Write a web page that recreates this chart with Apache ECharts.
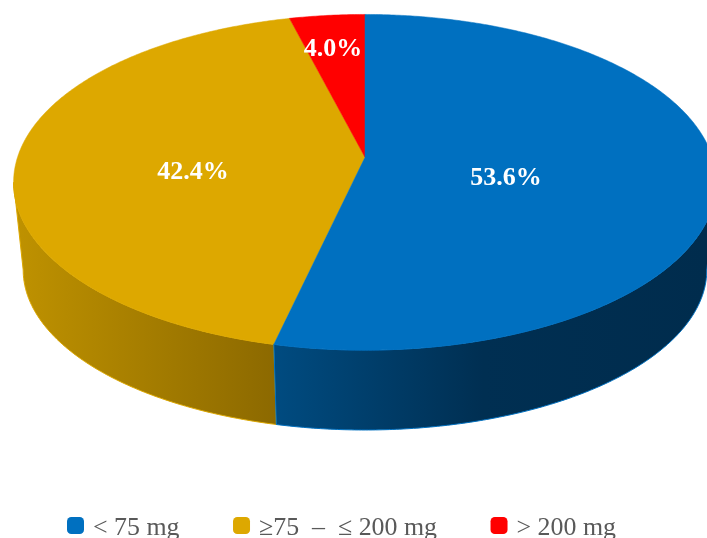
<!DOCTYPE html>
<html>
<head>
<meta charset="utf-8">
<style>html,body{margin:0;padding:0;background:#fff}#c{width:707px;height:538px}</style>
<script src="https://cdn.jsdelivr.net/npm/echarts@6/dist/echarts.min.js"></script>
</head>
<body>
<div id="c"></div>
<script>
const categories = ['< 75 mg', '\u226575  \u2013  \u2264 200 mg', '> 200 mg'];
const shares = [53.6, 42.4, 4.0];
const topColors = ['#0070C0', '#DDA800', '#FF0000'];
const sideStops = [
  [[0, '#004B80'], [0.48, '#002F52'], [1, '#002C4D']],
  [[0, '#BF9200'], [1, '#8C6900']],
  [[0, '#990000'], [1, '#990000']]
];
const sideRanges = [[276, 707], [14, 276], [290, 365]];
const labelAnchors = [[506, 178], [193, 172], [333, 49]];

// perspective projection of the disc (layout only)
const CX = 365, PERSP = -0.1488;
const TOP = { r: 347.5, a: 140.7, b: 157.3 };
const BOTTOM = { r: 338, a: 120, b: 246 };
const SIDE_START = 98.6, SIDE_END = 261.4; // visible part of the rim, degrees clockwise from 12 o'clock

function project(face, deg) {
  const t = deg * Math.PI / 180;
  const u = Math.sin(t), v = -Math.cos(t);
  const d = 1 + PERSP * v;
  return [CX + face.r * u / d, (face.a * v + face.b) / d];
}
function arc(face, from, to) {
  const pts = [];
  const n = Math.max(2, Math.ceil(Math.abs(to - from) * 2));
  for (let i = 0; i <= n; i++) pts.push(project(face, from + (to - from) * i / n));
  return pts;
}
const total = shares.reduce((s, v) => s + v, 0);

function sliceSeries(idx) {
  const before = shares.slice(0, idx).reduce((s, v) => s + v, 0);
  return {
    type: 'custom',
    name: categories[idx],
    coordinateSystem: 'none',
    silent: true,
    itemStyle: { color: topColors[idx] },
    data: [shares[idx]],
    renderItem(params, api) {
      const value = api.value(0);
      const a0 = before / total * 360, a1 = (before + value) / total * 360;
      const children = [];
      const s0 = Math.max(a0, SIDE_START), s1 = Math.min(a1, SIDE_END);
      if (s1 > s0) {
        const range = sideRanges[idx];
        const grad = new echarts.graphic.LinearGradient(range[0], 0, range[1], 0,
          sideStops[idx].map(s => ({ offset: s[0], color: s[1] })), true);
        children.push({
          type: 'polygon',
          shape: { points: arc(TOP, s0, s1).concat(arc(BOTTOM, s1, s0)) },
          style: { fill: grad, stroke: topColors[idx], lineWidth: 1 }
        });
      }
      children.push({
        type: 'polygon',
        shape: { points: [[CX, TOP.b]].concat(arc(TOP, a0, a1)) },
        style: { fill: topColors[idx], stroke: topColors[idx], lineWidth: 0.5 }
      });
      children.push({
        type: 'text',
        z2: 10,
        style: {
          x: labelAnchors[idx][0], y: labelAnchors[idx][1],
          text: value.toFixed(1) + '%',
          fill: '#FFFFFF',
          font: 'bold 26px "Liberation Serif"',
          align: 'center', verticalAlign: 'middle'
        }
      });
      return { type: 'group', children };
    }
  };
}

const chart = echarts.init(document.getElementById('c'), null, { renderer: 'canvas' });
chart.setOption({
  animation: false,
  backgroundColor: '#FFFFFF',
  legend: {
    left: 67, top: 515,
    icon: 'roundRect',
    itemWidth: 17, itemHeight: 17, itemGap: 53.5, padding: 0,
    selectedMode: false,
    data: categories,
    formatter: name => '{t|' + name + '}',
    textStyle: {
      padding: [0, 0, 0, 4],
      rich: {
        t: { color: '#595959', fontFamily: 'Liberation Serif', fontSize: 25.9, padding: [5, 0, 0, 0] }
      }
    }
  },
  series: [1, 2, 0].map(sliceSeries)
});
</script>
</body>
</html>
